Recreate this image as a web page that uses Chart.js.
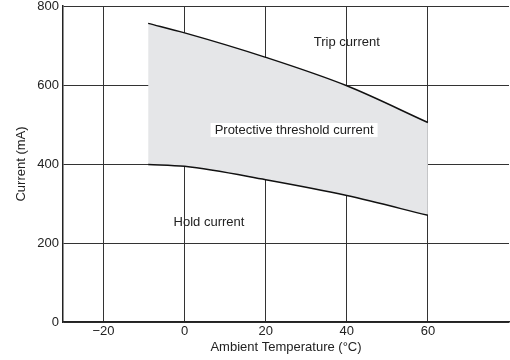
<!DOCTYPE html>
<html><head><meta charset="utf-8">
<script src="https://cdn.jsdelivr.net/npm/chart.js@4/dist/chart.umd.min.js"></script>
<style>html,body{margin:0;padding:0;background:#fff}#wrap{width:510px;height:360px}</style>
</head><body><div id="wrap"><canvas id="c"></canvas></div>
<script>
const temps = [-9, 0, 20, 40, 60];
const tripCurrent = [756, 732, 670, 598, 505];
const holdCurrent = [399, 394, 360, 320, 270];
const xTicks = [-20, 0, 20, 40, 60];
const yTicks = [0, 200, 400, 600, 800];
const labels = [
  {text: 'Trip current', x: 40, y: 708, box: false},
  {text: 'Protective threshold current', x: 27, y: 486, box: true},
  {text: 'Hold current', x: 6, y: 252, box: false}
];
const FONT = '"Liberation Sans", Arial, sans-serif';

const textPlugin = {
  id: 'texts',
  afterDatasetsDraw(chart) {
    const {ctx, scales: {x, y}} = chart;
    ctx.save();
    ctx.font = '13px ' + FONT;
    ctx.textAlign = 'center';
    ctx.textBaseline = 'middle';
    labels.forEach(l => {
      const px = x.getPixelForValue(l.x), py = y.getPixelForValue(l.y);
      if (l.box) {
        const w = ctx.measureText(l.text).width + 8;
        ctx.fillStyle = '#fff';
        ctx.fillRect(px - w / 2, py - 7, w, 14);
      }
      ctx.fillStyle = '#222';
      ctx.fillText(l.text, px, py);
    });
    ctx.restore();
  }
};

new Chart(document.getElementById('c'), {
  type: 'line',
  data: {
    datasets: [
      {label: 'Trip current', data: temps.map((t, i) => ({x: t, y: tripCurrent[i]})),
       borderColor: '#111', borderWidth: 1.5, pointRadius: 0, cubicInterpolationMode: 'monotone',
       fill: '+1', backgroundColor: '#e5e6e8'},
      {label: 'Hold current', data: temps.map((t, i) => ({x: t, y: holdCurrent[i]})),
       borderColor: '#111', borderWidth: 1.5, pointRadius: 0, cubicInterpolationMode: 'monotone',
       fill: false}
    ]
  },
  options: {
    responsive: true, maintainAspectRatio: false, animation: false,
    layout: {padding: {left: 0, right: 1, top: 6, bottom: 0}},
    plugins: {legend: {display: false}, tooltip: {enabled: false},
      filler: {drawTime: 'beforeDatasetsDraw'}},
    scales: {
      x: {
        type: 'linear', min: -30, max: 80,
        afterBuildTicks(s) { s.ticks = xTicks.map(v => ({value: v})); },
        afterFit(s) { s.height = 38; },
        ticks: {color: '#222', font: {size: 13, family: FONT}, padding: 2,
          callback: v => v < 0 ? '\u2212' + Math.abs(v) : String(v)},
        grid: {color: '#333', lineWidth: 1, drawTicks: false},
        border: {color: '#222', width: 1.5},
        title: {display: true, text: 'Ambient Temperature (\u00B0C)', color: '#222',
          font: {size: 13, family: FONT}, padding: {top: 1, bottom: 5}}
      },
      y: {
        min: 0, max: 800,
        afterBuildTicks(s) { s.ticks = yTicks.map(v => ({value: v})); },
        afterFit(s) { s.width = 63; s.paddingTop = 0; s.paddingBottom = 0; },
        ticks: {color: '#222', font: {size: 13, family: FONT}, padding: 4},
        grid: {color: '#333', lineWidth: 1, drawTicks: false},
        border: {color: '#222', width: 1.5},
        title: {display: true, text: 'Current (mA)', color: '#222',
          font: {size: 13, family: FONT}, padding: {top: 14, bottom: 4}}
      }
    }
  },
  plugins: [textPlugin]
});
</script></body></html>
